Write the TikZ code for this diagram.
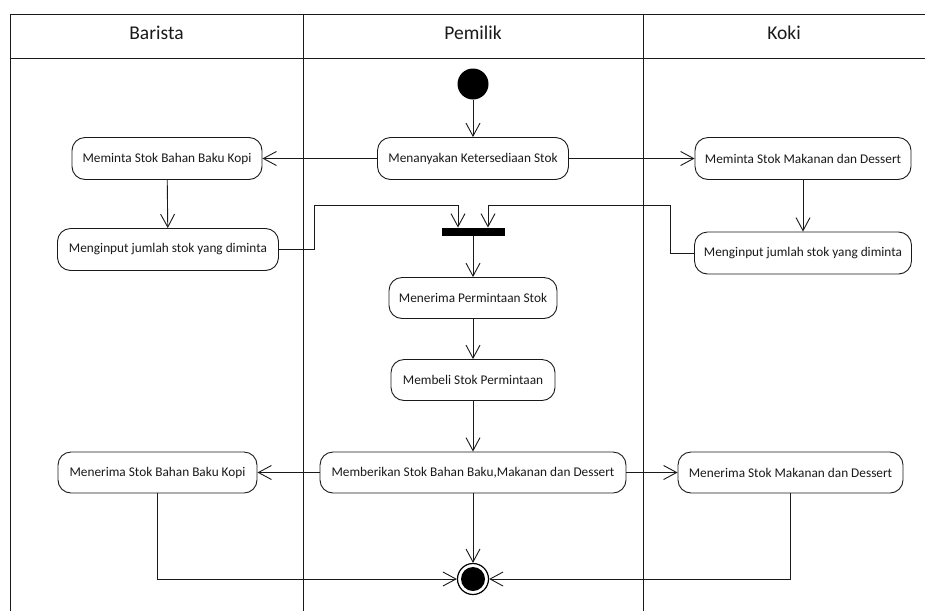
\documentclass[tikz,border=0pt]{standalone}
\usepackage{fontspec}
\setmainfont{Carlito}
\usetikzlibrary{arrows.meta}
\definecolor{ink}{HTML}{1A1A1A}
\tikzset{
  act/.style={draw=ink, line width=0.9pt, rounded corners=13pt, fill=white,
    minimum height=42pt, inner sep=0pt, font=\fontsize{13.3}{15}\selectfont, text=ink},
  flow/.style={draw=ink, line width=0.9pt, -{Straight Barb[length=13pt,width=14pt,line width=0.9pt]}},
  lane/.style={draw=ink, line width=0.8pt},
  hdr/.style={font=\fontsize{19.5}{21}\selectfont, text=ink}
}
\begin{document}
\begin{tikzpicture}[x=1pt,y=-1pt]
\useasboundingbox (0,0) rectangle (925,611);
\fill[white] (0,0) rectangle (925,611);
% swimlanes
\draw[lane] (10,611) -- (10,14) -- (925,14);
\draw[lane] (10,58) -- (925,58);
\draw[lane] (303,14) -- (303,611);
\draw[lane] (643,14) -- (643,611);
\node[hdr] (hb) at (156.5,33) {Barista};
\node[hdr] (hp) at (473,33) {Pemilik};
\node[hdr] (hk) at (784,33) {Koki};
% nodes
\node[circle, fill=black, minimum size=31pt, inner sep=0pt] (init) at (473,84) {};
\node[act, minimum width=191pt] (tanya) at (473,158.5) {Menanyakan Ketersediaan Stok};
\node[act, minimum width=190pt] (bahan) at (167,158.5) {Meminta Stok Bahan Baku Kopi};
\node[act, minimum width=216pt] (makan) at (803,158.5) {Meminta Stok Makanan dan Dessert};
\node[act, minimum width=221pt] (inL) at (168,249.5) {Menginput jumlah stok yang diminta};
\node[act, minimum width=217pt] (inR) at (803,253) {Menginput jumlah stok yang diminta};
\node[fill=black, minimum width=63pt, minimum height=8.5pt, inner sep=0pt] (bar) at (473,232) {};
\node[act, minimum width=168pt, minimum height=41pt] (terima) at (473,298) {Menerima Permintaan Stok};
\node[act, minimum width=164pt, minimum height=41pt] (beli) at (473,380) {Membeli Stok Permintaan};
\node[act, minimum width=306pt, minimum height=41pt] (beri) at (473,472.5) {Memberikan Stok Bahan Baku,Makanan dan Dessert};
\node[act, minimum width=199pt, minimum height=41pt] (trL) at (157.5,472.5) {Menerima Stok Bahan Baku Kopi};
\node[act, minimum width=225pt, minimum height=41pt] (trR) at (790.5,472.5) {Menerima Stok Makanan dan Dessert};
\node[circle, draw=black, line width=1.2pt, fill=white, minimum size=31pt, inner sep=0pt] (fin) at (473,579) {};
\node[circle, fill=black, minimum size=24pt, inner sep=0pt] (finin) at (fin) {};
% connectors
\coordinate (jl1) at (314,249.5);
\coordinate (jl2) at (314,205);
\coordinate (jl3) at (458,205);
\coordinate (jr1) at (670.5,253);
\coordinate (jr2) at (670.5,205);
\coordinate (jr3) at (488,205);
\draw[flow] (init) -- (tanya);
\draw[flow] (tanya) -- (bahan);
\draw[flow] (tanya) -- (makan);
\draw[flow] (bahan) -- (inL);
\draw[flow] (makan) -- (inR);
\draw[flow] (inL.east) -- (jl1) -- (jl2) -- (jl3) -- (jl3 |- bar.north);
\draw[flow] (inR.west) -- (jr1) -- (jr2) -- (jr3) -- (jr3 |- bar.north);
\draw[flow] (bar) -- (terima);
\draw[flow] (terima) -- (beli);
\draw[flow] (beli) -- (beri);
\draw[flow] (beri) -- (trL);
\draw[flow] (beri) -- (trR);
\draw[flow] (beri) -- (fin);
\draw[flow] (trL.south) |- (fin.west);
\draw[flow] (trR.south) |- (fin.east);
\end{tikzpicture}
\end{document}
